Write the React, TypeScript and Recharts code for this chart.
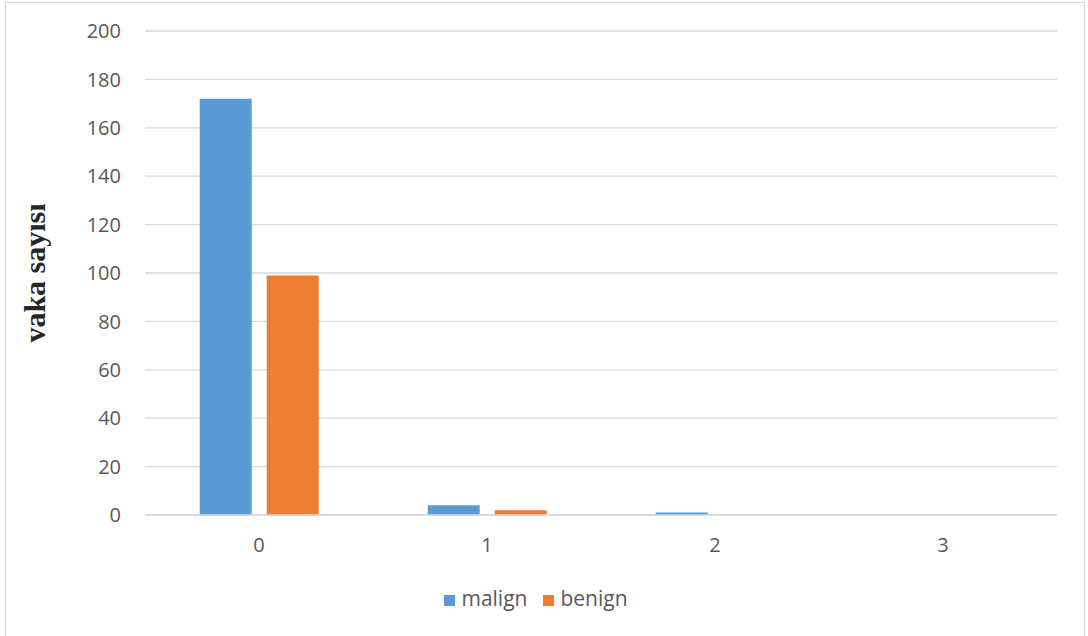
import React from 'react';
import { BarChart, Bar, XAxis, YAxis, CartesianGrid, Legend } from 'recharts';

const categories = ['0', '1', '2', '3'];
const malign = [172, 4, 1, 0];
const benign = [99, 2, 0, 0];
const yTicks = [0, 20, 40, 60, 80, 100, 120, 140, 160, 180, 200];
const seriesOrder = ['malign', 'benign'];

const data = categories.map((name, i) => ({ name, malign: malign[i], benign: benign[i] }));

const tickStyle = { fill: '#595959', fontSize: 20, fontFamily: '"Open Sans", sans-serif' };

const App: React.FC = () => {
  return (
    <div style={{ position: 'absolute', left: 0, top: 0, width: 1088, height: 636, overflow: 'hidden', background: '#fff' }}>
      <div
        style={{
          position: 'absolute',
          left: 5,
          top: 2,
          width: 1080,
          height: 660,
          border: '1.5px solid #d9d9d9',
          boxSizing: 'border-box',
        }}
      />
      <BarChart
        width={1088}
        height={636}
        data={data}
        margin={{ top: 31, right: 31, left: 0, bottom: 91 }}
        barGap={15}
        barCategoryGap="24%"
        style={{ position: 'absolute', left: 0, top: 0 }}
      >
        <CartesianGrid vertical={false} stroke="#d9d9d9" strokeWidth={1.3} />
        <XAxis
          dataKey="name"
          height={30}
          axisLine={{ stroke: '#d9d9d9', strokeWidth: 1.3 }}
          tickLine={false}
          tick={tickStyle}
          tickMargin={17}
        />
        <YAxis
          width={145}
          domain={[0, 200]}
          ticks={yTicks}
          axisLine={false}
          tickLine={false}
          tick={tickStyle}
          tickMargin={18}
          label={{
            value: 'vaka sayısı',
            angle: -90,
            position: 'insideLeft',
            offset: 34,
            style: {
              textAnchor: 'middle',
              fontFamily: '"Liberation Serif", "Times New Roman", serif',
              fontWeight: 'bold',
              fontSize: 30,
              fill: '#262626',
            },
          }}
        />
        <Legend
          verticalAlign="middle"
          align="center"
          iconType="square"
          iconSize={11}
          itemSorter={(item: any) => seriesOrder.indexOf(item.dataKey)}
          wrapperStyle={{ top: 584, left: 0, width: 1088, fontFamily: '"Open Sans", sans-serif', fontSize: 21 }}
          formatter={(value: string) => (
            <span style={{ color: '#595959', marginLeft: 2, marginRight: 6 }}>{value}</span>
          )}
        />
        <Bar dataKey="malign" name="malign" fill="#5b9bd5" isAnimationActive={false} />
        <Bar dataKey="benign" name="benign" fill="#ed7d31" isAnimationActive={false} />
      </BarChart>
    </div>
  );
};

export default App;
